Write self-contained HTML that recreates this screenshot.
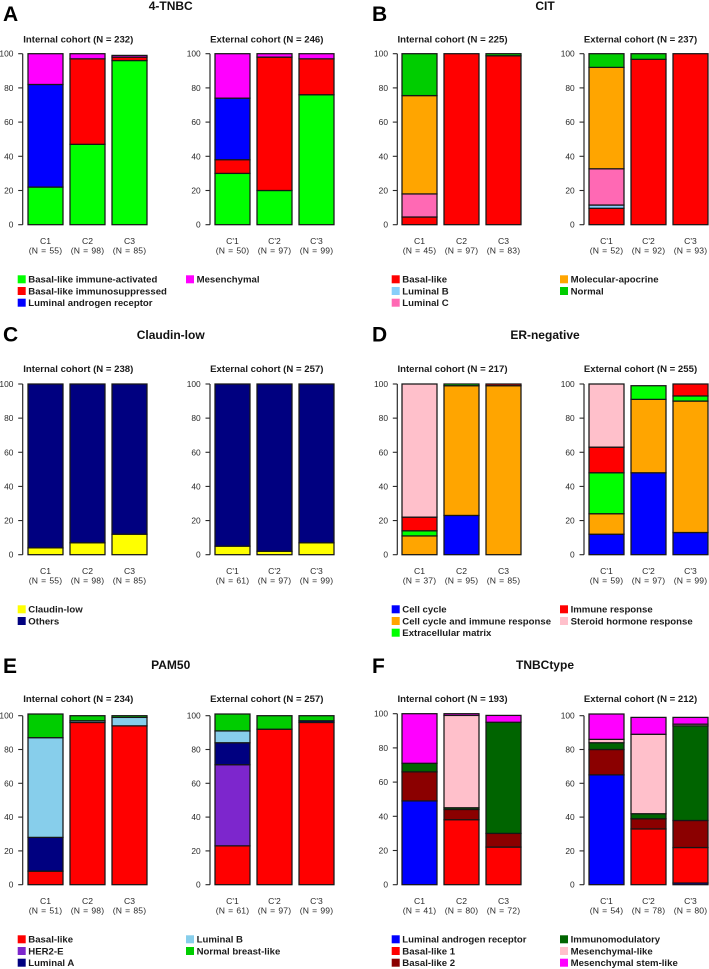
<!DOCTYPE html>
<html lang="en">
<head>
<meta charset="utf-8">
<title>Molecular subtype distribution across clusters</title>
<style>
html,body{margin:0;padding:0;background:#fff;width:709px;height:969px;overflow:hidden}
svg{display:block;filter:blur(0.38px);font-family:"Liberation Sans",Arial,sans-serif}
</style>
</head>
<body>
<svg id="figure" xmlns="http://www.w3.org/2000/svg" width="709" height="969" viewBox="0 0 709 969"></svg>
<script>
// ---- shared labels ----
const tickValues = [0, 20, 40, 60, 80, 100];
const internalClusters = ['C1', 'C2', 'C3'];
const externalClusters = ["C'1", "C'2", "C'3"];

// ---- A: 4-TNBC ----
const seriesA = ['Basal-like immune-activated', 'Basal-like immunosuppressed', 'Luminal androgen receptor', 'Mesenchymal'];
const colorsA = ['#00ff00', '#ff0000', '#0000ff', '#ff00ff'];
const internalA = [[22, 0, 60, 18], [47, 50, 0, 3], [96, 2, 0, 1]];
const externalA = [[30, 8, 36, 26], [20, 78, 0, 2], [76, 21, 0, 3]];
const countsInternalA = [55, 98, 85];
const countsExternalA = [50, 97, 99];

// ---- B: CIT ----
const seriesB = ['Basal-like', 'Luminal B', 'Luminal C', 'Molecular-apocrine', 'Normal'];
const colorsB = ['#ff0000', '#87cefa', '#ff69b4', '#ffa500', '#00cd00'];
const internalB = [[4.5, 0, 13.5, 57.5, 24.5], [100, 0, 0, 0, 0], [98.8, 0, 0, 0, 1.2]];
const externalB = [[9.6, 1.9, 21.2, 59.3, 8], [96.7, 0, 0, 0, 3.3], [100, 0, 0, 0, 0]];
const countsInternalB = [45, 97, 83];
const countsExternalB = [52, 92, 93];

// ---- C: Claudin-low ----
const seriesC = ['Claudin-low', 'Others'];
const colorsC = ['#ffff00', '#000080'];
const internalC = [[4, 96], [7, 93], [12, 88]];
const externalC = [[5, 95], [2, 98], [7, 93]];
const countsInternalC = [55, 98, 85];
const countsExternalC = [61, 97, 99];

// ---- D: ER-negative ----
const seriesD = ['Cell cycle', 'Cell cycle and immune response', 'Extracellular matrix', 'Immune response', 'Steroid hormone response'];
const colorsD = ['#0000ff', '#ffa500', '#00ff00', '#ff0000', '#ffc0cb'];
const internalD = [[0, 11, 3, 8, 78], [23, 76, 1, 0, 0], [0, 99, 0, 1, 0]];
const externalD = [[12, 12, 24, 15, 37], [48, 43, 8, 0, 0], [13, 77, 3, 7, 0]];
const countsInternalD = [37, 95, 85];
const countsExternalD = [59, 97, 99];

// ---- E: PAM50 ----
const seriesE = ['Basal-like', 'HER2-E', 'Luminal A', 'Luminal B', 'Normal breast-like'];
const colorsE = ['#ff0000', '#7d26cd', '#000080', '#87ceeb', '#00cd00'];
const internalE = [[8, 0, 20, 59, 14], [96, 0, 0, 1, 3], [94, 0, 0, 5, 1]];
const externalE = [[23, 48, 13, 7, 10], [92, 0, 0, 0, 8], [96, 0, 1, 0, 3]];
const countsInternalE = [51, 98, 85];
const countsExternalE = [61, 97, 99];

// ---- F: TNBCtype ----
const seriesF = ['Luminal androgen receptor', 'Basal-like 1', 'Basal-like 2', 'Immunomodulatory', 'Mesenchymal-like', 'Mesenchymal stem-like'];
const colorsF = ['#0000ff', '#ff0000', '#8b0000', '#006400', '#ffc0cb', '#ff00ff'];
const internalF = [[49, 0, 17, 5, 0, 29], [0, 38, 6, 1, 54, 1], [0, 22, 8, 65, 0, 4]];
const externalF = [[65, 0, 15, 4, 2, 15], [0, 33, 6, 3, 47, 10], [1, 21, 16, 56, 1, 4]];
const countsInternalF = [41, 80, 72];
const countsExternalF = [54, 78, 80];

// ---- panel definitions ----
const panels = [
  {id: 'a', letter: 'A', title: '4-TNBC', column: 0, y0: 224.7, y100: 53.7, extY100: 53.7, titleY: 10, subY: 42.5, legendY: 279.3, labelY: 21,
   series: seriesA, colors: colorsA, legendSplit: 3, int: internalA, ext: externalA, intN: 232, extN: 246, intC: countsInternalA, extC: countsExternalA},
  {id: 'b', letter: 'B', title: 'CIT', column: 1, y0: 224.7, y100: 53.7, extY100: 53.7, titleY: 10, subY: 42.5, legendY: 279.3, labelY: 21,
   series: seriesB, colors: colorsB, legendSplit: 3, int: internalB, ext: externalB, intN: 225, extN: 237, intC: countsInternalB, extC: countsExternalB},
  {id: 'c', letter: 'C', title: 'Claudin-low', column: 0, y0: 554.7, y100: 384, extY100: 384, titleY: 339, subY: 372, legendY: 609.3, labelY: 341.7,
   series: seriesC, colors: colorsC, legendSplit: 2, int: internalC, ext: externalC, intN: 238, extN: 257, intC: countsInternalC, extC: countsExternalC},
  {id: 'd', letter: 'D', title: 'ER-negative', column: 1, y0: 554.7, y100: 384, extY100: 384, titleY: 339, subY: 372, legendY: 609.3, labelY: 341.7,
   series: seriesD, colors: colorsD, legendSplit: 3, int: internalD, ext: externalD, intN: 217, extN: 255, intC: countsInternalD, extC: countsExternalD},
  {id: 'e', letter: 'E', title: 'PAM50', column: 0, y0: 884.7, y100: 715.7, extY100: 715.7, titleY: 669, subY: 702, legendY: 939.3, labelY: 673,
   series: seriesE, colors: colorsE, legendSplit: 3, int: internalE, ext: externalE, intN: 234, extN: 257, intC: countsInternalE, extC: countsExternalE},
  {id: 'f', letter: 'F', title: 'TNBCtype', column: 1, y0: 884.7, y100: 713.7, extY100: 715.7, titleY: 669, subY: 702, legendY: 939.3, labelY: 673,
   series: seriesF, colors: colorsF, legendSplit: 3, int: internalF, ext: externalF, intN: 193, extN: 212, intC: countsInternalF, extC: countsExternalF}
];

// ---- geometry of the two figure columns ----
const columnGeometry = [
  {letterX: 3, titleX: 170.7, intAxis: 22.7, extAxis: 210, intBar: [28, 70, 112], extBar: [215, 257, 299], legendX: [17.7, 186], intSub: 78.3, extSub: 266.8},
  {letterX: 372, titleX: 545, intAxis: 397.3, extAxis: 584, intBar: [402, 444, 486], extBar: [589, 631, 673], legendX: [391.7, 560], intSub: 452.5, extSub: 640.5}
];
const barWidth = 35;
const legendRowStep = 11.7;
const textColor = '#1c1c1c';

const svgNS = 'http://www.w3.org/2000/svg';
const figure = document.getElementById('figure');

function make(parent, tag, attrs, text) {
  const el = document.createElementNS(svgNS, tag);
  for (const key in attrs) el.setAttribute(key, attrs[key]);
  if (text !== undefined) el.textContent = text;
  parent.appendChild(el);
  return el;
}

function yScale(y0, y100) {
  return function (v) { return y0 - v * (y0 - y100) / 100; };
}

function drawPlot(panel, parent, cohort, axisX, barXs, y100, subX, values, clusters, counts, n) {
  const y = yScale(panel.y0, y100);
  const g = make(parent, 'g', {});
  
  

  const sub = make(g, 'text', {x: subX, y: panel.subY, 'text-anchor': 'middle', 'font-size': 9.6, 'font-weight': 'bold', fill: textColor},
    (cohort === 'internal' ? 'Internal' : 'External') + ' cohort (N = ' + n + ')');
  
  

  const axis = make(g, 'line', {x1: axisX, x2: axisX, y1: y(0), y2: y(100), stroke: '#2a2a2a', 'stroke-width': 1.2});
  
  

  tickValues.forEach(function (t) {
    const tick = make(g, 'line', {x1: axisX - 4.5, x2: axisX, y1: y(t), y2: y(t), stroke: '#2a2a2a', 'stroke-width': 1.1});
    
    
    const label = make(g, 'text', {x: axisX - 9.3, y: y(t) + 3, 'text-anchor': 'end', 'font-size': 8.4, fill: '#2a2a2a'}, String(t));
    
    
  });

  values.forEach(function (stack, i) {
    let cumulative = 0;
    stack.forEach(function (v, s) {
      if (v <= 0) return;
      const top = y(cumulative + v);
      const bottom = y(cumulative);
      cumulative += v;
      const seg = make(g, 'rect', {x: barXs[i], y: top, width: barWidth, height: bottom - top, fill: panel.colors[s], stroke: '#161616', 'stroke-width': 1.25});
      
      
    });
    const cx = barXs[i] + barWidth / 2;
    const lab1 = make(g, 'text', {x: cx, y: panel.y0 + 19.3, 'text-anchor': 'middle', 'font-size': 8.6, fill: '#2a2a2a'}, clusters[i]);
    
    
    const lab2 = make(g, 'text', {x: cx, y: panel.y0 + 29, 'text-anchor': 'middle', 'font-size': 8.6, 'word-spacing': '0.5', 'letter-spacing': '0.15', fill: '#2a2a2a'}, '(N = ' + counts[i] + ')');
    
    
  });
}

panels.forEach(function (panel) {
  const geo = columnGeometry[panel.column];
  const g = make(figure, 'g', {});
  
  

  const letter = make(g, 'text', {x: geo.letterX, y: panel.labelY, 'font-size': 21, 'font-weight': 'bold', fill: '#000'}, panel.letter);
  
  

  const title = make(g, 'text', {x: geo.titleX, y: panel.titleY, 'text-anchor': 'middle', 'font-size': 12, 'font-weight': 'bold', fill: '#111'}, panel.title);
  
  

  drawPlot(panel, g, 'internal', geo.intAxis, geo.intBar, panel.y100, geo.intSub, panel.int, internalClusters, panel.intC, panel.intN);
  drawPlot(panel, g, 'external', geo.extAxis, geo.extBar, panel.extY100, geo.extSub, panel.ext, externalClusters, panel.extC, panel.extN);

  panel.series.forEach(function (name, i) {
    const col = i < panel.legendSplit ? 0 : 1;
    const row = col === 0 ? i : i - panel.legendSplit;
    const cy = panel.legendY + row * legendRowStep;
    const entry = make(g, 'g', {});
    
    
    const sw = make(entry, 'rect', {x: geo.legendX[col], y: cy - 4, width: 8, height: 8, fill: panel.colors[i]});
    
    
    const tx = make(entry, 'text', {x: geo.legendX[col] + 10.6, y: cy + 3.3, 'font-size': 9.6, 'font-weight': 'bold', fill: textColor}, name);
    
    
  });
});
</script>
</body>
</html>
